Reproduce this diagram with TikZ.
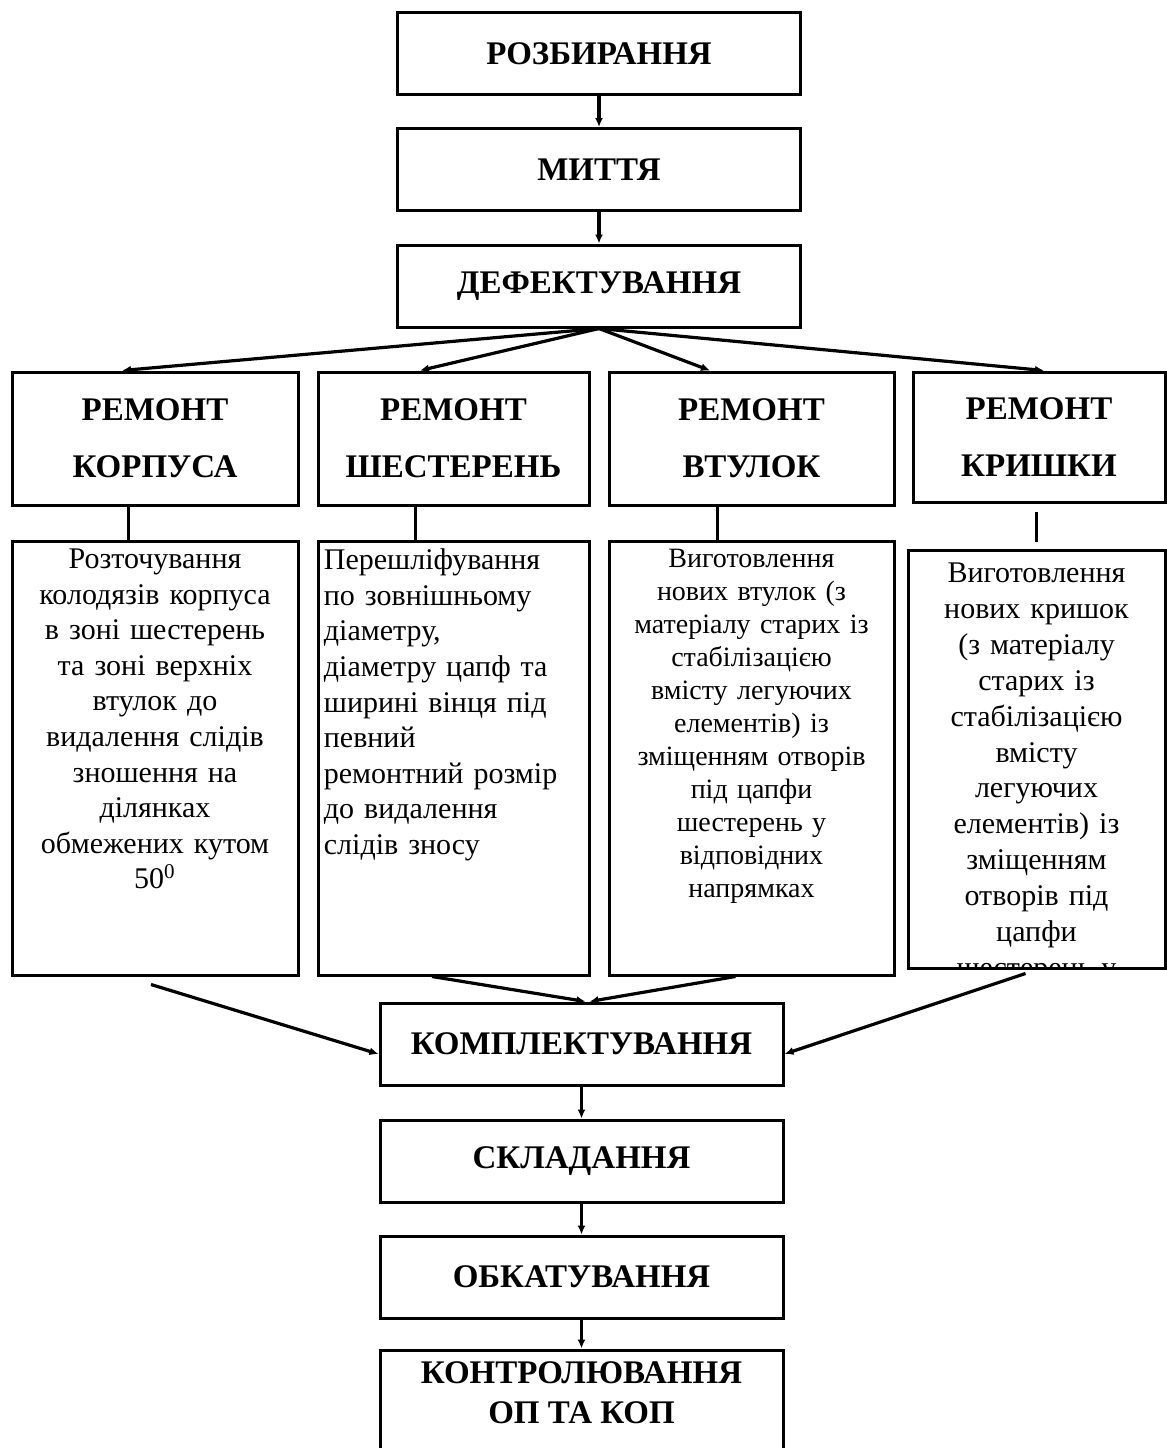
\documentclass[tikz,border=0pt]{standalone}
\usepackage{fontspec}
\setmainfont{Liberation Serif}
\usetikzlibrary{arrows.meta,positioning}
\newcommand{\fullline}[1]{\makebox[\linewidth][s]{#1}}

\begin{document}
\begin{tikzpicture}[x=0.5pt, y=-0.5pt]
\tikzset{stagebox/.style={draw, line width=1.5pt, minimum width=201.5pt, minimum height=41pt, inner sep=0pt, align=center, font=\fontsize{16.5}{20}\selectfont\bfseries},
repbox/.style={draw, line width=1.5pt, minimum height=66.5pt, inner sep=0pt, align=center, font=\fontsize{16.5}{28.5}\selectfont\bfseries},
workbox/.style={draw, line width=1.5pt, inner sep=0pt},
worktext/.style={inner sep=0pt, font=\fontsize{15}{17.8}\selectfont},
conn/.style={line width=1.6pt, -{Latex[length=4.5pt,width=4pt]}},
link/.style={line width=1.5pt}}

\useasboundingbox (0,0) rectangle (1167,1448);

%% Main chain
\node (razb) [stagebox] at (599, 53.5) {РОЗБИРАННЯ};
\node (myttia) [stagebox] at (599, 169.5) {МИТТЯ};
\node (defekt) [stagebox] at (599, 286) {ДЕФЕКТУВАННЯ};

\node (komp) [stagebox] at (581.5, 1044) {КОМПЛЕКТУВАННЯ};
\node (sklad) [stagebox] at (581.5, 1161) {СКЛАДАННЯ};
\node (obkat) [stagebox] at (581.5, 1277) {ОБКАТУВАННЯ};
\node (kontr) [stagebox, minimum height=51pt, text depth=8pt] at (581.5, 1401) {КОНТРОЛЮВАННЯ\\ОП ТА КОП};

%% Repair boxes
\node (r1) [repbox, minimum width=143pt] at (155, 438.5) {РЕМОНТ\\КОРПУСА};
\node (r2) [repbox, minimum width=135.5pt] at (453.5, 438.5) {РЕМОНТ\\ШЕСТЕРЕНЬ};
\node (r3) [repbox, minimum width=142.5pt] at (751.5, 438.5) {РЕМОНТ\\ВТУЛОК};
\node (r4) [repbox, minimum width=126pt, minimum height=65pt] at (1039, 437) {РЕМОНТ\\КРИШКИ};

%% Work boxes
\node (d1) [workbox, minimum width=143pt, minimum height=217pt] at (155, 758) {};
\node (d2) [workbox, minimum width=135.5pt, minimum height=217pt] at (453.5, 758) {};
\node (d3) [workbox, minimum width=142.5pt, minimum height=217pt] at (751.5, 758) {};
\node (d4) [workbox, minimum width=128.5pt, minimum height=209pt] at (1036.5, 759) {};

\node (t1) [worktext, anchor=north, text width=140pt, align=center] at ([yshift=-4.5pt]d1.north) {
Розточування\\
колодязів корпуса\\
в зоні шестерень\\
та зоні верхніх\\
втулок до\\
видалення слідів\\
зношення на\\
ділянках\\
обмежених кутом\\
50\textsuperscript{0}};

\node (t2) [worktext, anchor=north west, text width=118.5pt, align=left] at ([shift={(3.5pt,-4.5pt)}]d2.north west) {
Перешліфування\\
\fullline{по зовнішньому}\\
діаметру,\\
\fullline{діаметру цапф та}\\
\fullline{ширині вінця під}\\
певний\\
ремонтний розмір\\
\fullline{до видалення}\\
слідів зносу};

\node (t3) [worktext, anchor=north, text width=140pt, align=center, font=\fontsize{14}{16.5}\selectfont] at ([yshift=-4.7pt]d3.north) {
Виготовлення\\
нових втулок (з\\
матеріалу старих із\\
стабілізацією\\
вмісту легуючих\\
елементів) із\\
зміщенням отворів\\
під цапфи\\
шестерень у\\
відповідних\\
напрямках};

\begin{scope}
\clip (d4.south west) rectangle (d4.north east);
\node (t4) [worktext, anchor=north, text width=126pt, align=center, font=\fontsize{15}{17.95}\selectfont] at ([yshift=-7pt]d4.north) {
Виготовлення\\
нових кришок\\
(з матеріалу\\
старих із\\
стабілізацією\\
вмісту\\
легуючих\\
елементів) із\\
зміщенням\\
отворів під\\
цапфи\\
шестерень у};
\end{scope}

%% Edges
\foreach \u/\v in {razb/myttia, myttia/defekt, komp/sklad, sklad/obkat, obkat/kontr}
  \draw[conn] (\u.south) -- (\v.north);
\foreach \u/\dx in {r1/-16.5pt, r2/-16.75pt, r3/-20.75pt, r4/2.5pt}
  \draw[conn] (defekt.south) -- ([xshift=\dx]\u.north);
\foreach \u/\v/\dx in {r1/d1/-13.5pt, r2/d2/-19.25pt, r3/d3/-17.25pt}
  \draw[link] ([xshift=\dx]\u.south) -- ([xshift=\dx]\v.north);
\draw[link] ([shift={(-1.25pt,-4pt)}]r4.south) -- ([yshift=3.5pt]d4.north);

\draw[conn] ([shift={(-2pt,-4pt)}]d1.south) -- ([yshift=-5pt]komp.west);
\draw[conn] ([xshift=-10.75pt]d2.south) -- ([xshift=2pt]komp.north);
\draw[conn] ([xshift=-8pt]d3.south) -- ([xshift=4pt]komp.north);
\draw[conn] ([shift={(-5.5pt,-2pt)}]d4.south) -- ([yshift=-5pt]komp.east);

\end{tikzpicture}
\end{document}
